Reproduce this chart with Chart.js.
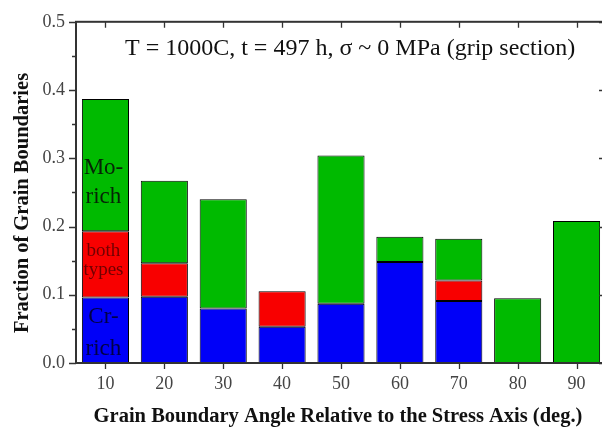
<!DOCTYPE html>
<html>
<head>
<meta charset="utf-8">
<script src="https://cdn.jsdelivr.net/npm/chart.js@4.4.0/dist/chart.umd.min.js"></script>
<style>
  html, body { margin: 0; padding: 0; background: #fff; overflow: hidden; }
  #wrap { width: 608px; height: 428px; }
</style>
</head>
<body>
<div id="wrap"><canvas id="gbChart" width="608" height="428"></canvas></div>
<script>
// --- DATA ---
const angles = ['10', '20', '30', '40', '50', '60', '70', '80', '90'];
const crRich = [0.096, 0.097, 0.080, 0.053, 0.087, 0.148, 0.091, null, null];
const bothTypes = [0.097, 0.049, null, 0.052, null, null, 0.030, null, null];
const moRich = [0.194, 0.121, 0.160, null, 0.217, 0.037, 0.061, 0.095, 0.208];
const yTicks = [0.0, 0.1, 0.2, 0.3, 0.4, 0.5];

const SERIF = '"Liberation Serif", "Times New Roman", serif';
const AXIS_COLOR = '#333';

// --- FRAME, TICKS, TITLES AND LABELS ---
const framePlugin = {
    id: 'frame',
    afterDraw(chart) {
        const ctx = chart.ctx;
        const { left, right, top, bottom } = chart.chartArea;
        const x = chart.scales.x;
        const y = chart.scales.y;
        ctx.save();
        ctx.strokeStyle = AXIS_COLOR;
        ctx.lineWidth = 2;
        ctx.strokeRect(left, top, right - left, bottom - top);

        ctx.lineWidth = 1.3;
        ctx.beginPath();
        // y ticks: outward on the left, inward on the right
        for (let v = 0; v <= 0.5001; v += 0.05) {
            const py = Math.round(y.getPixelForValue(v)) + 0.5;
            const major = Math.abs(v * 10 - Math.round(v * 10)) < 1e-6;
            const len = major ? 7 : 4;
            ctx.moveTo(left - len, py); ctx.lineTo(left, py);
            ctx.moveTo(right, py); ctx.lineTo(right - len, py);
        }
        // x ticks at category centres
        angles.forEach((a, i) => {
            const px = Math.round(x.getPixelForValue(i)) + 0.5;
            ctx.moveTo(px, bottom); ctx.lineTo(px, bottom + 6);
            ctx.moveTo(px, top); ctx.lineTo(px, top + 6);
        });
        ctx.stroke();

        // axis titles
        ctx.fillStyle = '#111';
        ctx.font = 'bold 20.5px ' + SERIF;
        ctx.textAlign = 'center';
        ctx.textBaseline = 'middle';
        ctx.fillText('Grain Boundary Angle Relative to the Stress Axis (deg.)', 338, 417);
        ctx.save();
        ctx.translate(23, 203);
        ctx.rotate(-Math.PI / 2);
        ctx.fillText('Fraction of Grain Boundaries', 0, 0);
        ctx.restore();

        // condition text
        ctx.textAlign = 'left';
        ctx.textBaseline = 'alphabetic';
        ctx.font = '24px ' + SERIF;
        ctx.fillStyle = '#111';
        ctx.fillText('T = 1000C, t = 497 h, \u03c3 ~ 0 MPa (grip section)', 125, 55);

        // labels inside the first bar
        const cx = x.getPixelForValue(0) - 2;
        ctx.textAlign = 'center';
        const labels = [
            ['Mo-', 174, 23, '#062406'], ['rich', 203, 23, '#062406'],
            ['both', 256, 19, '#700000'], ['types', 275, 19, '#700000'],
            ['Cr-', 323, 23, '#000046'], ['rich', 355, 23, '#000046']
        ];
        labels.forEach(([t, py, size, col]) => {
            ctx.font = size + 'px ' + SERIF;
            ctx.fillStyle = col;
            ctx.fillText(t, cx, py);
        });
        ctx.restore();
    }
};

// --- CHART CREATION ---
function createChart() {
    const ctx = document.getElementById('gbChart').getContext('2d');
    const common = { borderColor: '#000', borderWidth: 1, borderSkipped: false,
                     barPercentage: 0.8, categoryPercentage: 1.0 };
    new Chart(ctx, {
        type: 'bar',
        data: {
            labels: angles,
            datasets: [
                Object.assign({ label: 'Cr-rich', data: crRich, backgroundColor: '#0000f8' }, common),
                Object.assign({ label: 'both types', data: bothTypes, backgroundColor: '#f80000' }, common),
                Object.assign({ label: 'Mo-rich', data: moRich, backgroundColor: '#00ba00' }, common)
            ]
        },
        options: {
            responsive: false,
            animation: false,
            layout: { padding: { top: 16, right: 2, left: 0, bottom: 0 } },
            plugins: { legend: { display: false }, tooltip: { enabled: false } },
            scales: {
                x: {
                    stacked: true,
                    grid: { display: false, drawTicks: false },
                    border: { display: false },
                    ticks: { color: '#444', font: { family: SERIF, size: 18 }, padding: 10, maxRotation: 0 },
                    afterFit(scale) { scale.height = 65; }
                },
                y: {
                    stacked: true,
                    min: 0,
                    max: 0.5,
                    grid: { display: false, drawTicks: false },
                    border: { display: false },
                    afterBuildTicks(scale) { scale.ticks = yTicks.map(v => ({ value: v })); },
                    ticks: {
                        color: '#444',
                        font: { family: SERIF, size: 18 },
                        padding: 11,
                        callback: v => Number(v).toFixed(1)
                    },
                    afterFit(scale) { scale.width = 76; }
                }
            }
        },
        plugins: [framePlugin]
    });
}

document.addEventListener('DOMContentLoaded', createChart);
</script>
</body>
</html>
